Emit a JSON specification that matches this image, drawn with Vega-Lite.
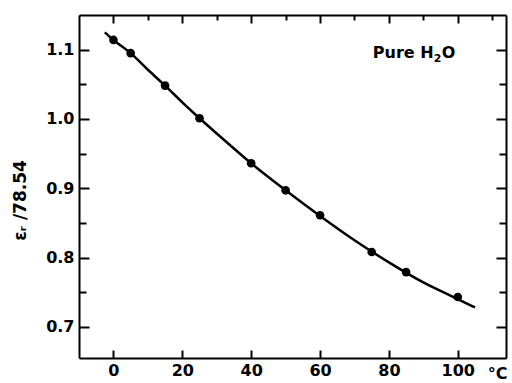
{
  "$schema": "https://vega.github.io/schema/vega-lite/v6.json",
  "autosize": "none",
  "width": 427,
  "height": 343,
  "padding": {"left": 79, "top": 15, "right": 6, "bottom": 25},
  "background": "white",
  "config": {"view": {"stroke": null}},
  "datasets": {
    "fitcurve": [
      {"t": -2.5, "e": 1.125}, {"t": 0, "e": 1.114}, {"t": 5, "e": 1.095}, {"t": 10, "e": 1.071},
      {"t": 15, "e": 1.048}, {"t": 20, "e": 1.024}, {"t": 25, "e": 1.001}, {"t": 30, "e": 0.979},
      {"t": 40, "e": 0.936}, {"t": 50, "e": 0.897}, {"t": 60, "e": 0.86}, {"t": 70, "e": 0.825},
      {"t": 80, "e": 0.793}, {"t": 90, "e": 0.764}, {"t": 100, "e": 0.74}, {"t": 105, "e": 0.728}
    ],
    "measured": [
      {"t": 0, "e": 1.114}, {"t": 5, "e": 1.095}, {"t": 15, "e": 1.048}, {"t": 25, "e": 1.001},
      {"t": 40, "e": 0.936}, {"t": 50, "e": 0.897}, {"t": 60, "e": 0.861}, {"t": 75, "e": 0.808},
      {"t": 85, "e": 0.779}, {"t": 100, "e": 0.743}
    ],
    "note": [{"t": 93, "e": 1.095, "a": "Pure H", "b": "2", "c": "O"}]
  },
  "resolve": {"axis": {"x": "independent", "y": "independent"}},
  "layer": [
    {
      "layer": [
        {
          "data": {"name": "measured"},
          "mark": {"type": "point", "filled": true, "color": "black", "size": 75, "opacity": 1},
          "encoding": {
            "x": {
              "field": "t", "type": "quantitative",
              "scale": {"domain": [-10, 114], "nice": false, "zero": false},
              "axis": {
                "orient": "bottom", "grid": false,
                "domainColor": "black", "domainWidth": 2,
                "tickColor": "black", "tickWidth": 2,
                "tickSize": {"condition": {"test": "datum.value % 20 === 0", "value": -8}, "value": -5},
                "values": [0, 10, 20, 30, 40, 50, 60, 70, 80, 90, 100, 110],
                "labelExpr": "datum.value % 20 === 0 ? datum.label : ''",
                "labelPadding": 12,
                "labelFontSize": 16, "labelFontWeight": "bold", "labelFont": "DejaVu Sans", "labelColor": "black",
                "title": "°C", "titleFont": "DejaVu Sans", "titleFontSize": 16, "titleFontWeight": "bold", "titleColor": "black",
                "titleX": 418, "titleY": 15, "titleAlign": "center", "titleBaseline": "middle"
              }
            },
            "y": {
              "field": "e", "type": "quantitative",
              "scale": {"domain": [0.655, 1.15], "nice": false, "zero": false},
              "axis": {
                "orient": "left", "grid": false,
                "domainColor": "black", "domainWidth": 2,
                "tickColor": "black", "tickWidth": 2,
                "tickSize": {"condition": {"test": "round(datum.value*100) % 10 === 0", "value": -10}, "value": -7},
                "values": [0.7, 0.75, 0.8, 0.85, 0.9, 0.95, 1.0, 1.05, 1.1],
                "labelExpr": "round(datum.value*100) % 10 === 0 ? format(datum.value, '.1f') : ''",
                "labelPadding": 15,
                "labelFontSize": 16, "labelFontWeight": "bold", "labelFont": "DejaVu Sans", "labelColor": "black",
                "title": "εᵣ /78.54", "titleFont": "DejaVu Sans", "titleFontSize": 17, "titleFontWeight": "bold", "titleColor": "black",
                "titleX": -59, "titleY": 185, "titleAngle": -90, "titleAlign": "center", "titleBaseline": "middle"
              }
            }
          }
        },
        {
          "data": {"name": "fitcurve"},
          "mark": {"type": "line", "color": "black", "strokeWidth": 2.5, "interpolate": "monotone"},
          "encoding": {
            "x": {"field": "t", "type": "quantitative", "scale": {"domain": [-10, 114], "nice": false, "zero": false}},
            "y": {"field": "e", "type": "quantitative", "scale": {"domain": [0.655, 1.15], "nice": false, "zero": false}}
          }
        },
        {
          "data": {"name": "note"},
          "mark": {"type": "text", "font": "DejaVu Sans", "fontWeight": "bold", "fontSize": 16, "color": "black", "align": "right", "baseline": "middle"},
          "encoding": {
            "x": {"field": "t", "type": "quantitative", "scale": {"domain": [-10, 114], "nice": false, "zero": false}},
            "y": {"field": "e", "type": "quantitative", "scale": {"domain": [0.655, 1.15], "nice": false, "zero": false}},
            "text": {"field": "a"}
          }
        },
        {
          "data": {"name": "note"},
          "mark": {"type": "text", "font": "DejaVu Sans", "fontWeight": "bold", "fontSize": 11, "color": "black", "align": "left", "baseline": "middle", "dy": 6},
          "encoding": {
            "x": {"field": "t", "type": "quantitative", "scale": {"domain": [-10, 114], "nice": false, "zero": false}},
            "y": {"field": "e", "type": "quantitative", "scale": {"domain": [0.655, 1.15], "nice": false, "zero": false}},
            "text": {"field": "b"}
          }
        },
        {
          "data": {"name": "note"},
          "mark": {"type": "text", "font": "DejaVu Sans", "fontWeight": "bold", "fontSize": 16, "color": "black", "align": "left", "baseline": "middle", "dx": 8},
          "encoding": {
            "x": {"field": "t", "type": "quantitative", "scale": {"domain": [-10, 114], "nice": false, "zero": false}},
            "y": {"field": "e", "type": "quantitative", "scale": {"domain": [0.655, 1.15], "nice": false, "zero": false}},
            "text": {"field": "c"}
          }
        }
      ]
    },
    {
      "data": {"name": "measured"},
      "mark": {"type": "point", "opacity": 0},
      "encoding": {
        "x": {
          "field": "t", "type": "quantitative",
          "scale": {"domain": [-10, 114], "nice": false, "zero": false},
          "axis": {
            "orient": "top", "labels": false, "title": null, "grid": false,
            "domainColor": "black", "domainWidth": 2, "tickColor": "black", "tickWidth": 2,
            "values": [0, 10, 20, 30, 40, 50, 60, 70, 80, 90, 100, 110],
            "tickSize": {"condition": {"test": "datum.value % 20 === 0", "value": -8}, "value": -5}
          }
        },
        "y": {
          "field": "e", "type": "quantitative",
          "scale": {"domain": [0.655, 1.15], "nice": false, "zero": false},
          "axis": {
            "orient": "right", "labels": false, "title": null, "grid": false,
            "domainColor": "black", "domainWidth": 2, "tickColor": "black", "tickWidth": 2,
            "values": [0.7, 0.75, 0.8, 0.85, 0.9, 0.95, 1.0, 1.05, 1.1],
            "tickSize": {"condition": {"test": "round(datum.value*100) % 10 === 0", "value": -10}, "value": -7}
          }
        }
      }
    }
  ]
}
